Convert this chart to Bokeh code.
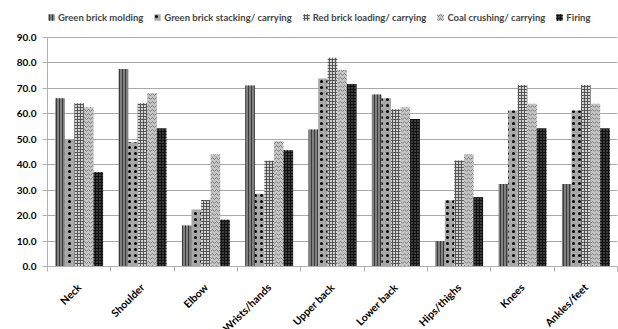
from bokeh.plotting import figure
from bokeh.models import (ColumnDataSource, Legend, LegendItem, Range1d, LinearAxis,
                          FixedTicker, NumeralTickFormatter)
from bokeh.transform import dodge
from bokeh.embed import file_html
from bokeh.resources import INLINE
from math import pi

categories = ["Neck", "Shoulder", "Elbow", "Wrists/hands", "Upper back",
              "Lower back", "Hips/thighs", "Knees", "Ankles/feet"]
series_names = ["Green brick molding", "Green brick stacking/ carrying",
                "Red brick loading/ carrying", "Coal crushing/ carrying", "Firing"]
green_molding = [66.1, 77.6, 16.1, 71.1, 53.8, 67.6, 10.0, 32.4, 32.4]
green_stacking = [50.1, 48.8, 22.4, 28.6, 73.9, 66.1, 26.0, 61.3, 61.3]
red_loading = [64.2, 64.2, 26.1, 41.6, 82.0, 61.8, 41.7, 71.3, 71.3]
coal_crushing = [62.6, 68.1, 44.0, 49.2, 77.2, 62.6, 44.0, 64.0, 64.0]
firing = [37.0, 54.2, 18.4, 45.7, 71.7, 58.0, 27.2, 54.2, 54.2]
y_ticks = [0, 10, 20, 30, 40, 50, 60, 70, 80, 90]

n = len(categories)
centers = [i + 0.5 for i in range(n)]
bounds = list(range(n + 1))
y_max = y_ticks[-1]

series = [green_molding, green_stacking, red_loading, coal_crushing, firing]
keys = ["s0", "s1", "s2", "s3", "s4"]
src = ColumnDataSource(dict(x=centers, cat=categories, **{k: v for k, v in zip(keys, series)}))

FONT = "Lato"

# frame spans the full height above the axis; the legend sits in the headroom above 90
FRAME_H = 266
PLOT_H = 229
p = figure(x_range=Range1d(0, n), y_range=Range1d(0, y_max * FRAME_H / PLOT_H),
           frame_width=570, frame_height=FRAME_H,
           output_backend="svg", toolbar_location=None, x_axis_location=None,
           min_border_left=47, min_border_right=1, min_border_top=0, min_border_bottom=0)
p.outline_line_color = None
p.background_fill_color = "white"

styles = [
    dict(fill_color="#808080", hatch_pattern="vertical_line", hatch_color="#3a3a3a", hatch_scale=3, hatch_weight=1),
    dict(fill_color="#a8a8a8", hatch_pattern="dot", hatch_color="black", hatch_scale=6, hatch_weight=2),
    dict(fill_color="#d4d4d4", hatch_pattern="cross", hatch_color="#555555", hatch_scale=3, hatch_weight=1),
    dict(fill_color="#c4c4c4", hatch_pattern="horizontal_wave", hatch_color="#808080", hatch_scale=4, hatch_weight=1),
    dict(fill_color="#3c3c3c", hatch_pattern="cross", hatch_color="#111111", hatch_scale=3, hatch_weight=1),
]
w = 0.151
offsets = [-2 * w, -w, 0, w, 2 * w]
renderers = []
for k, off, st in zip(keys, offsets, styles):
    r = p.vbar(x=dodge("x", off), top=k, width=w, source=src, line_color=None, **st)
    renderers.append(r)

# y axis
p.yaxis.ticker = FixedTicker(ticks=y_ticks)
p.yaxis.bounds = (0, y_max)
p.yaxis.formatter = NumeralTickFormatter(format="0.0")
p.yaxis.major_label_text_font = FONT
p.yaxis.major_label_text_font_style = "bold"
p.yaxis.major_label_text_font_size = "10px"
p.yaxis.major_label_text_color = "black"
p.yaxis.axis_line_color = "#b0b0b0"
p.yaxis.major_tick_line_color = "#b0b0b0"
p.yaxis.major_tick_out = 5
p.yaxis.major_tick_in = 0
p.yaxis.minor_tick_line_color = None
p.yaxis.major_label_standoff = 6

p.ygrid.ticker = FixedTicker(ticks=y_ticks)
p.ygrid.grid_line_color = "#a8a8a8"
p.ygrid.grid_line_width = 1
p.xgrid.grid_line_color = None

# tick marks between categories
tick_axis = LinearAxis(ticker=FixedTicker(ticks=bounds),
                       major_label_overrides={b: "" for b in bounds}, major_label_standoff=0,
                       axis_line_color="#b0b0b0", major_tick_line_color="#b0b0b0",
                       major_tick_out=5, major_tick_in=0, minor_tick_line_color=None)
p.add_layout(tick_axis, "below")

cat_axis = LinearAxis(ticker=FixedTicker(ticks=centers),
                      major_label_overrides={c: lab for c, lab in zip(centers, categories)},
                      axis_line_color=None, major_tick_line_color=None, minor_tick_line_color=None,
                      major_label_orientation=pi / 4,
                      major_label_text_font=FONT, major_label_text_font_style="bold",
                      major_label_text_font_size="10.5px", major_label_text_color="black",
                      major_label_standoff=8)
p.add_layout(cat_axis, "below")

legend = Legend(items=[LegendItem(label=nm, renderers=[r]) for nm, r in zip(series_names, renderers)],
                orientation="horizontal", location=(0, FRAME_H - 23),
                label_text_font=FONT, label_text_font_style="bold", label_text_font_size="9.5px",
                glyph_width=8, glyph_height=8, label_standoff=3, spacing=10, padding=2, margin=0,
                border_line_color=None, background_fill_alpha=0, label_height=12)
p.add_layout(legend, "center")

open("out.html", "w").write(file_html(p, INLINE))
